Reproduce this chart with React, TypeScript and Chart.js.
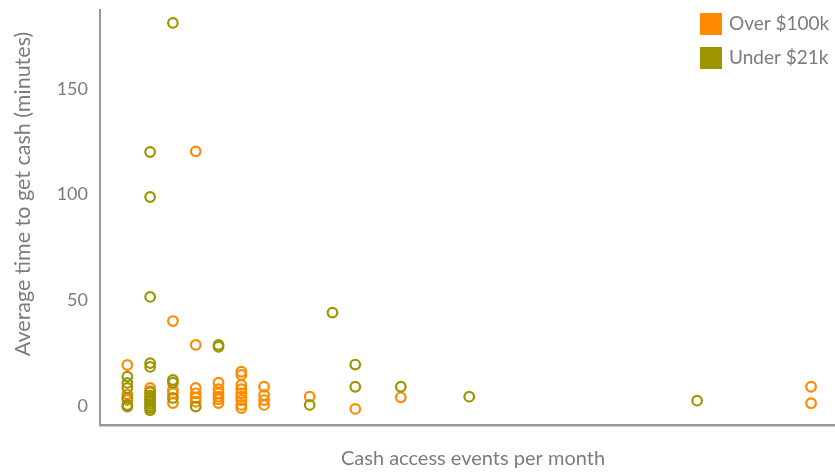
import React, { useEffect, useRef } from "react";
import { Chart, registerables } from "chart.js";

Chart.register(...registerables);

const seriesLabels = ["Over $100k", "Under $21k"];
const seriesColors = ["#FF8A00", "#9D9500"];

const overX = [1, 1, 1, 2, 2, 3, 3, 3, 3, 4, 4, 4, 4, 4, 4, 5, 5, 5, 5, 5, 5, 6, 6, 6, 6, 6, 6, 6, 6, 6, 7, 7, 7, 7, 9, 11, 13, 31, 31];
const overY = [19.4, 5.5, 2.8, 8.5, 7, 40.2, 7.6, 6, 1.4, 120.5, 28.9, 8.5, 6, 3.9, 2, 11, 8, 6, 4.4, 3.2, 1.4, 16.2, 14.7, 10, 8, 6, 4.4, 2.8, 0.5, -1, 9.1, 5.2, 2.8, 0.5, 4.4, -1.4, 4.1, 9.1, 1.3];

const underX = [1, 1, 1, 1, 1, 1, 2, 2, 2, 2, 2, 2, 2, 2, 2, 2, 2, 2, 2, 2, 3, 3, 3, 3, 4, 5, 5, 9, 10, 11, 11, 13, 16, 26];
const underY = [13.9, 10.9, 8.5, 3.8, 0.5, -0.3, 120.2, 98.9, 51.6, 20.3, 18.5, 6.5, 5, 4, 3, 2, 1, 0, -1, -2, 181.3, 12.3, 11, 3.8, -0.3, 28.9, 28, 0.5, 44.2, 19.6, 9.1, 9.1, 4.4, 2.5];

const yTicks = [0, 50, 100, 150];
const xTitle = "Cash access events per month";
const yTitle = "Average time to get cash (minutes)";

const TEXT = "#7c7c7c";
const FONT = "Lato";

const toPoints = (xs: number[], ys: number[]) => xs.map((x, i) => ({ x, y: ys[i] }));

const overlay = {
  id: "overlay",
  afterDraw(chart: any) {
    const ctx = chart.ctx;
    ctx.save();
    ctx.fillStyle = TEXT;
    ctx.textBaseline = "middle";
    // x title
    ctx.font = `20px ${FONT}`;
    ctx.textAlign = "center";
    ctx.fillText(xTitle, 473, 459);
    // y title
    ctx.save();
    ctx.font = `21.5px ${FONT}`;
    ctx.translate(23, 194);
    ctx.rotate(-Math.PI / 2);
    ctx.fillText(yTitle, 0, 0);
    ctx.restore();
    // legend
    ctx.font = `19px ${FONT}`;
    ctx.textAlign = "left";
    seriesLabels.forEach((lab, i) => {
      const top = 13 + i * 34;
      ctx.fillStyle = seriesColors[i];
      ctx.fillRect(700, top, 22, 22);
      ctx.fillStyle = TEXT;
      ctx.fillText(lab, 729, top + 11);
    });
    ctx.restore();
  },
};

export default function App() {
  const ref = useRef<HTMLCanvasElement | null>(null);
  useEffect(() => {
    document.body.style.margin = "0";
    if (!ref.current) return;
    const chart = new Chart(ref.current, {
      type: "scatter",
      data: {
        datasets: [
          {
            label: seriesLabels[0],
            data: toPoints(overX, overY),
            borderColor: seriesColors[0],
            backgroundColor: "rgba(255,255,255,0)",
            pointRadius: 4.8,
            pointBorderWidth: 2.2,
            order: 2,
          },
          {
            label: seriesLabels[1],
            data: toPoints(underX, underY),
            borderColor: seriesColors[1],
            backgroundColor: "rgba(255,255,255,0)",
            pointRadius: 4.8,
            pointBorderWidth: 2.2,
            order: 1,
          },
        ],
      },
      options: {
        responsive: false,
        animation: false,
        layout: { autoPadding: false, padding: { top: 10, right: 0, left: 0, bottom: 0 } },
        plugins: { legend: { display: false }, tooltip: { enabled: false } },
        scales: {
          x: {
            type: "linear",
            min: -0.2,
            max: 32.05,
            grid: { display: false, drawTicks: false },
            border: { display: true, color: "#999999", width: 2.5 },
            ticks: { display: false },
            afterFit: (s: any) => {
              s.height = 47;
            },
          },
          y: {
            type: "linear",
            min: -9,
            max: 187.4,
            grid: { display: false, drawTicks: false },
            border: { display: true, color: "#999999", width: 2 },
            ticks: { color: TEXT, font: { family: FONT, size: 18 }, padding: 12 },
            afterBuildTicks: (s: any) => {
              s.ticks = yTicks.map((v) => ({ value: v }));
            },
            afterFit: (s: any) => {
              s.width = 100;
              s.paddingTop = 0;
              s.paddingBottom = 0;
            },
          },
        },
      },
      plugins: [overlay],
    });
    return () => chart.destroy();
  }, []);
  return <canvas ref={ref} width={835} height={472} style={{ display: "block" }} />;
}
